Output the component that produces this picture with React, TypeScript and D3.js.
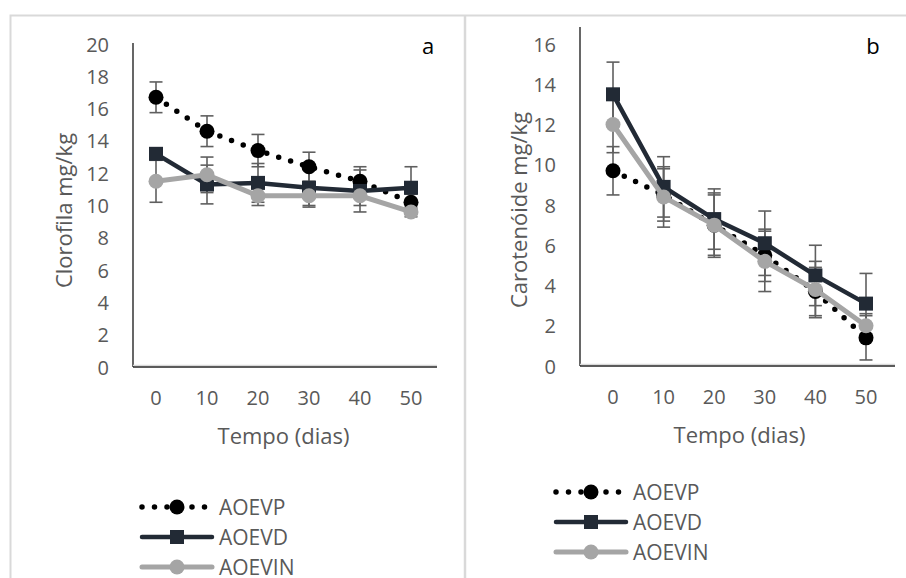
import React from "react";
import * as d3 from "d3";

// tempo (dias)
const days = ["0", "10", "20", "30", "40", "50"];
const seriesNames = ["AOEVP", "AOEVD", "AOEVIN"];

// painel a - clorofila (mg/kg)
const clorofilaAOEVP = [16.7, 14.6, 13.4, 12.4, 11.5, 10.2];
const clorofilaAOEVD = [13.2, 11.3, 11.4, 11.1, 10.9, 11.1];
const clorofilaAOEVIN = [11.5, 11.9, 10.6, 10.6, 10.6, 9.6];
const clorofilaErrAOEVP = [0.95, 0.95, 1.0, 0.9, 0.9, 0.5];
const clorofilaErrAOEVD = [0.3, 1.2, 1.2, 1.2, 1.3, 1.3];
const clorofilaErrAOEVIN = [1.3, 1.1, 0.6, 0.6, 0.6, 0.3];
const clorofilaTicks = [0, 2, 4, 6, 8, 10, 12, 14, 16, 18, 20];

// painel b - carotenóide (mg/kg)
const carotAOEVP = [9.7, 8.5, 7.0, 5.5, 3.7, 1.4];
const carotAOEVD = [13.5, 8.9, 7.3, 6.1, 4.5, 3.1];
const carotAOEVIN = [12.0, 8.4, 7.0, 5.2, 3.8, 2.0];
const carotErrAOEVP = [1.2, 1.3, 1.6, 1.3, 1.2, 1.1];
const carotErrAOEVD = [1.6, 1.5, 1.5, 1.6, 1.5, 1.5];
const carotErrAOEVIN = [1.4, 1.5, 1.5, 1.5, 1.4, 0.6];
const carotTicks = [0, 2, 4, 6, 8, 10, 12, 14, 16];

const FONT = "'Open Sans', sans-serif";
const NAVY = "#222a35";
const GRAY = "#a5a5a5";
const TXT = "#595959";
const ERR = "#5f5f5f";

type Series = { name: string; values: number[]; err: number[] };

function Marker({ kind, x, y }: { kind: number; x: number; y: number }) {
  if (kind === 0) return <circle cx={x} cy={y} r={7.5} fill="#000" />;
  if (kind === 1) return <rect x={x - 7} y={y - 7} width={14} height={14} fill={NAVY} />;
  return <circle cx={x} cy={y} r={7.5} fill={GRAY} />;
}

function lineStyle(kind: number) {
  if (kind === 0) return { stroke: "#000", strokeWidth: 5.5, strokeDasharray: "0 12.5", strokeLinecap: "round" as const };
  if (kind === 1) return { stroke: NAVY, strokeWidth: 4.5, strokeLinecap: "round" as const };
  return { stroke: GRAY, strokeWidth: 5, strokeLinecap: "round" as const };
}

function Panel(props: {
  series: Series[];
  yMax: number;
  ticks: number[];
  yRange: [number, number];
  xRange: [number, number];
  axisX: [number, number];
  axisTop: number;
  yLabel: string;
  yLabelX: number;
  letter: string;
  letterX: number;
  legendX: number;
  legendY: number;
}) {
  const { series, ticks, yRange, xRange, axisX, axisTop } = props;
  const x = d3.scalePoint<string>().domain(days).range(xRange);
  const y = d3.scaleLinear().domain([0, props.yMax]).range(yRange);
  const y0 = y(0);
  const midX = (xRange[0] + xRange[1]) / 2;
  const line = d3
    .line<number>()
    .x((_, i) => x(days[i]) as number)
    .y((d) => y(d));

  return (
    <g>
      {/* eixos */}
      <line x1={axisX[0]} x2={axisX[0]} y1={axisTop} y2={y0} stroke="#000" strokeWidth={1.2} />
      <line x1={axisX[0]} x2={axisX[1]} y1={y0 - 1.5} y2={y0 - 1.5} stroke="#d9d9d9" strokeWidth={1.5} />
      <line x1={axisX[0]} x2={axisX[1]} y1={y0} y2={y0} stroke="#262626" strokeWidth={1.3} />
      {ticks.map((t) => (
        <text key={t} x={axisX[0] - 24} y={y(t)} textAnchor="end" dominantBaseline="central"
          fontFamily={FONT} fontSize={20} fill={TXT}>{t}</text>
      ))}
      {days.map((d) => (
        <text key={d} x={x(d)} y={y0 + 30} textAnchor="middle" dominantBaseline="central"
          fontFamily={FONT} fontSize={20} fill={TXT}>{d}</text>
      ))}
      <text x={midX} y={y0 + 68} textAnchor="middle" dominantBaseline="central"
        fontFamily={FONT} fontSize={22} fill={TXT}>Tempo (dias)</text>
      <text transform={`translate(${props.yLabelX},${(yRange[0] + yRange[1]) / 2 + 5}) rotate(-90)`}
        textAnchor="middle" dominantBaseline="central" fontFamily={FONT} fontSize={22} fill={TXT}>
        {props.yLabel}
      </text>
      <text x={props.letterX} y={45} textAnchor="middle" dominantBaseline="central"
        fontFamily={FONT} fontSize={22} fill="#000">{props.letter}</text>

      {/* barras de erro */}
      {series.map((s, k) =>
        s.values.map((v, i) => {
          const cx = x(days[i]) as number;
          const hi = y(v + s.err[i]);
          const lo = y(v - s.err[i]);
          return (
            <g key={`e${k}-${i}`} stroke={ERR} strokeWidth={1.6}>
              <line x1={cx} x2={cx} y1={hi} y2={lo} />
              <line x1={cx - 6.5} x2={cx + 6.5} y1={hi} y2={hi} />
              <line x1={cx - 6.5} x2={cx + 6.5} y1={lo} y2={lo} />
            </g>
          );
        })
      )}

      {/* linhas e marcadores */}
      {series.map((s, k) => (
        <g key={`s${k}`}>
          <path d={line(s.values) || ""} fill="none" {...lineStyle(k)} />
          {s.values.map((v, i) => (
            <Marker key={i} kind={k} x={x(days[i]) as number} y={y(v)} />
          ))}
        </g>
      ))}

      {/* legenda */}
      {series.map((s, k) => {
        const ly = props.legendY + k * 30;
        const lx = props.legendX;
        return (
          <g key={`l${k}`}>
            <path d={`M${lx},${ly}H${lx + 70}`} fill="none" {...lineStyle(k)} />
            <Marker kind={k} x={lx + 35} y={ly} />
            <text x={lx + 77} y={ly} dominantBaseline="central" fontFamily={FONT} fontSize={21} fill={TXT}>
              {s.name}
            </text>
          </g>
        );
      })}
    </g>
  );
}

export default function App() {
  const seriesA: Series[] = [
    { name: seriesNames[0], values: clorofilaAOEVP, err: clorofilaErrAOEVP },
    { name: seriesNames[1], values: clorofilaAOEVD, err: clorofilaErrAOEVD },
    { name: seriesNames[2], values: clorofilaAOEVIN, err: clorofilaErrAOEVIN },
  ];
  const seriesB: Series[] = [
    { name: seriesNames[0], values: carotAOEVP, err: carotErrAOEVP },
    { name: seriesNames[1], values: carotAOEVD, err: carotErrAOEVD },
    { name: seriesNames[2], values: carotAOEVIN, err: carotErrAOEVIN },
  ];
  return (
    <svg width={906} height={578} style={{ position: "absolute", left: 0, top: 0, background: "#fff" }}>
      <rect x={0} y={0} width={906} height={578} fill="#fff" />
      {/* molduras */}
      <path d="M10.5,578V15.5H906" fill="none" stroke="#d9d9d9" strokeWidth={2} />
      <path d="M465,15V578" fill="none" stroke="#d9d9d9" strokeWidth={2.5} />
      <Panel series={seriesA} yMax={20} ticks={clorofilaTicks} yRange={[367, 44]} xRange={[156, 411]}
        axisX={[133, 437]} axisTop={43} yLabel="Clorofila mg/kg" yLabelX={63} letter="a" letterX={428}
        legendX={142} legendY={507} />
      <Panel series={seriesB} yMax={16} ticks={carotTicks} yRange={[366, 44]} xRange={[613, 866]}
        axisX={[580, 895]} axisTop={27} yLabel="Carotenóide mg/kg" yLabelX={518} letter="b" letterX={873}
        legendX={556} legendY={492} />
    </svg>
  );
}
